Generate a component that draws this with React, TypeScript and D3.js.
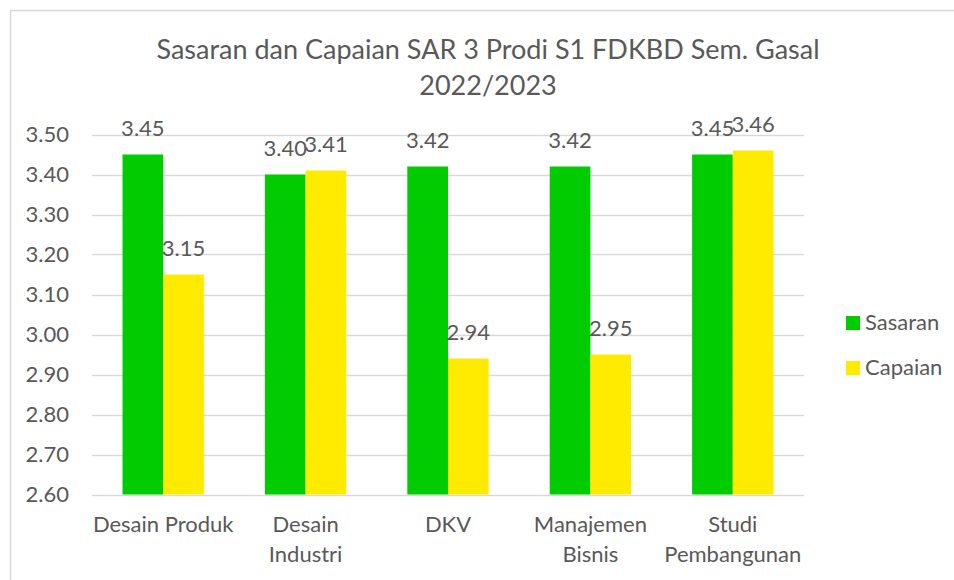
import * as d3 from "d3";

const TITLE_LINES = ["Sasaran dan Capaian SAR 3 Prodi S1 FDKBD Sem. Gasal", "2022/2023"];
const CATEGORIES = ["Desain Produk", "Desain Industri", "DKV", "Manajemen Bisnis", "Studi Pembangunan"];
const SERIES = ["Sasaran", "Capaian"];
const SASARAN = [3.45, 3.4, 3.42, 3.42, 3.45];
const CAPAIAN = [3.15, 3.41, 2.94, 2.95, 3.46];
const COLORS = ["#00cc00", "#ffeb00"];
const Y_TICKS = [2.6, 2.7, 2.8, 2.9, 3.0, 3.1, 3.2, 3.3, 3.4, 3.5];

const WIDTH = 954;
const HEIGHT = 580;
const PLOT = { left: 92, right: 804, top: 134.5, bottom: 494.5 };
const FONT = "Lato, 'Open Sans', sans-serif";
const TEXT = "#595959";
const GRID = "#d9d9d9";

const wrap = (s: string) => (s.length > 13 ? s.split(" ") : [s]);

export default function App() {
  const values = [SASARAN, CAPAIAN];

  const x0 = d3.scaleBand<string>().domain(CATEGORIES).range([PLOT.left, PLOT.right]);
  // Excel-style gap width of 150%
  const barW = x0.bandwidth() / (SERIES.length + 1.5);
  const x1 = d3
    .scaleBand<string>()
    .domain(SERIES)
    .range([0, barW * SERIES.length]);
  const offset = (x0.bandwidth() - barW * SERIES.length) / 2;

  const y = d3.scaleLinear().domain([2.6, 3.5]).range([PLOT.bottom, PLOT.top]);

  return (
    <div style={{ position: "absolute", left: 0, top: 0 }}>
      <svg width={WIDTH} height={HEIGHT} style={{ display: "block", background: "#fff" }}>
        <rect x={10.5} y={10.5} width={1000} height={1000} fill="#fff" stroke={GRID} strokeWidth={1.5} />

        {TITLE_LINES.map((t, i) => (
          <text
            key={t}
            x={488}
            y={59 + i * 36}
            textAnchor="middle"
            fontFamily={FONT}
            fontSize={27}
            fill={TEXT}
          >
            {t}
          </text>
        ))}

        {Y_TICKS.map((t) => (
          <g key={t}>
            <line
              x1={PLOT.left}
              x2={PLOT.right}
              y1={Math.round(y(t)) + 0.5}
              y2={Math.round(y(t)) + 0.5}
              stroke={GRID}
              strokeWidth={1.5}
            />
            <text
              x={69}
              y={y(t) + 7.5}
              textAnchor="end"
              fontFamily={FONT}
              fontSize={22}
              fill={TEXT}
            >
              {d3.format(".2f")(t)}
            </text>
          </g>
        ))}

        {CATEGORIES.map((c, ci) => (
          <g key={c} transform={`translate(${(x0(c) ?? 0) + offset},0)`}>
            {SERIES.map((s, si) => {
              const v = values[si][ci];
              const bx = x1(s) ?? 0;
              return (
                <g key={s}>
                  <rect
                    x={bx}
                    y={y(v)}
                    width={x1.bandwidth()}
                    height={y(2.6) - y(v)}
                    fill={COLORS[si]}
                  />
                  <text
                    x={bx + x1.bandwidth() / 2}
                    y={y(v) - 19}
                    textAnchor="middle"
                    fontFamily={FONT}
                    fontSize={22}
                    fill={TEXT}
                  >
                    {d3.format(".2f")(v)}
                  </text>
                </g>
              );
            })}
          </g>
        ))}

        {CATEGORIES.map((c) =>
          wrap(c).map((line, li) => (
            <text
              key={c + li}
              x={(x0(c) ?? 0) + x0.bandwidth() / 2}
              y={532 + li * 29.5}
              textAnchor="middle"
              fontFamily={FONT}
              fontSize={22}
              fill={TEXT}
            >
              {line}
            </text>
          ))
        )}

        {SERIES.map((s, i) => (
          <g key={s} transform={`translate(846,${316 + i * 45})`}>
            <rect width={14} height={14} fill={COLORS[i]} />
            <text x={19} y={14} fontFamily={FONT} fontSize={22} fill={TEXT}>
              {s}
            </text>
          </g>
        ))}
      </svg>
    </div>
  );
}
